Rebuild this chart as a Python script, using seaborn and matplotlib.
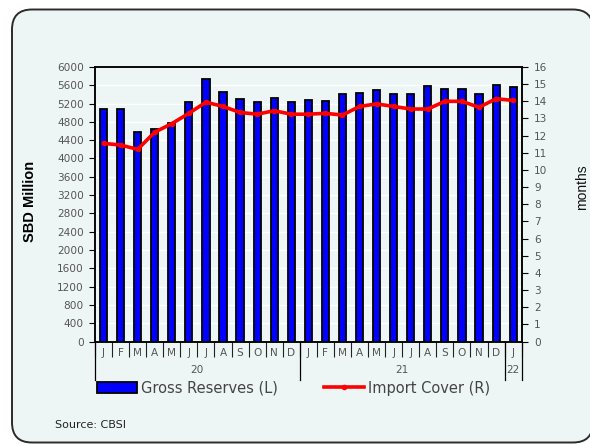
import numpy as np
import pandas as pd
import matplotlib
matplotlib.use("Agg")
import matplotlib.pyplot as plt
import seaborn as sns
from matplotlib.patches import FancyBboxPatch
from matplotlib.transforms import IdentityTransform

# ---- data ----
months = ["J", "F", "M", "A", "M", "J", "J", "A", "S", "O", "N", "D",
          "J", "F", "M", "A", "M", "J", "J", "A", "S", "O", "N", "D", "J"]
years = ["20", "21", "22"]
gross_reserves = [5080, 5080, 4580, 4640, 4780, 5240, 5740, 5450, 5290, 5240, 5320, 5240,
                  5270, 5260, 5420, 5440, 5490, 5420, 5400, 5590, 5520, 5520, 5420, 5600,
                  5570]
import_cover = [11.55, 11.45, 11.2, 12.2, 12.7, 13.3, 13.95, 13.7, 13.35, 13.25, 13.45, 13.25,
                13.25, 13.3, 13.2, 13.7, 13.85, 13.7, 13.55, 13.55, 14.0, 14.0, 13.65, 14.15,
                14.05]
left_ticks = list(range(0, 6001, 400))
right_ticks = list(range(0, 17))

df = pd.DataFrame({"pos": list(range(len(months))),
                   "reserves": gross_reserves,
                   "cover": import_cover})

W, H = 590, 444
panel_fc = "#eef6f5"
fig = plt.figure(figsize=(W / 100, H / 100), dpi=100)
fig.patch.set_facecolor("white")

panel = FancyBboxPatch((12, 1.5), 581, 433, boxstyle="round,pad=0,rounding_size=20",
                       transform=IdentityTransform(), fc=panel_fc, ec="#2b2b2b", lw=1.4,
                       zorder=0)
fig.add_artist(panel)

L, R, T, B = 95, 521.7, 67, 341.5
ax = fig.add_axes([L / W, (H - B) / H, (R - L) / W, (B - T) / H])
ax.patch.set_visible(False)

sns.barplot(data=df, x="pos", y="reserves", color="#0000ff", saturation=1,
            edgecolor="black", linewidth=1.3, width=0.42, ax=ax)
ax.set_xlim(-0.5, len(months) - 0.5)
ax.set_ylim(0, 6000)
ax.set_yticks(left_ticks)
ax.yaxis.grid(True, color="white", lw=0.9)
ax.set_axisbelow(True)
ax.set_xlabel("")
ax.set_ylabel("")

ax2 = ax.twinx()
sns.lineplot(data=df, x="pos", y="cover", color="red", lw=2.6, marker="o",
             markersize=4, markeredgewidth=0, legend=False, ax=ax2)
ax2.set_ylim(0, 16)
ax2.set_yticks(right_ticks)
ax2.set_ylabel("")
ax2.set_xlabel("")
ax.set_xlim(-0.5, len(months) - 0.5)

for a in (ax, ax2):
    for s in a.spines.values():
        s.set_color("black")
        s.set_linewidth(1.1)

ax.tick_params(axis="y", direction="out", length=4, width=0.8, color="black",
               labelcolor="#555555", labelsize=7.6, pad=4)
ax2.tick_params(axis="y", direction="out", length=4, width=0.8, color="black",
                labelcolor="#555555", labelsize=7.6, pad=5)
for lab in ax.get_yticklabels() + ax2.get_yticklabels():
    lab.set_fontfamily("DejaVu Sans")

# month separators
ax.set_xticks(np.arange(-0.5, len(months), 1.0))
ax.set_xticklabels([])
ax.tick_params(axis="x", direction="out", length=11, width=0.8, color="#222222")

xt = ax.get_xaxis_transform()
for i, m in enumerate(months):
    ax.text(i, -0.042, m, transform=xt, ha="center", va="center",
            fontsize=7.6, color="#555555")
# year separators and labels
for xb in [-0.5, 11.5, 23.5, 24.5]:
    ax.plot([xb, xb], [0, -0.14], transform=xt, color="black", lw=0.9, clip_on=False)
for xc, y in zip([5.5, 17.5, 24.0], years):
    ax.text(xc, -0.104, y, transform=xt, ha="center", va="center",
            fontsize=7.6, color="#555555")

# axis titles
fig.text(29.5 / W, 1 - 201 / H, "SBD Million", rotation=90, ha="center", va="center",
         fontsize=10.5, fontweight="bold",
         family=["Liberation Sans Narrow", "Liberation Sans", "DejaVu Sans"])
fig.text(582 / W, 1 - 187 / H, "months", rotation=90, ha="center", va="center",
         fontsize=10, family=["Liberation Sans", "DejaVu Sans"], color="#111111")

# legend
bar_handle = ax.patches[0]
line_handle = ax2.get_lines()[0]
leg = fig.legend([bar_handle, line_handle], ["Gross Reserves (L)", "Import Cover (R)"],
                 loc="center left", bbox_to_anchor=(97 / W, 1 - 388 / H), ncol=2,
                 frameon=False, fontsize=10.5, handlelength=2.74, handletextpad=0.27,
                 columnspacing=3.2, borderpad=0, borderaxespad=0)
for t in leg.get_texts():
    t.set_color("#444444")

fig.text(55 / W, 1 - 425 / H, "Source: CBSI", ha="left", va="center",
         fontsize=8, color="#222222")

fig.savefig("out.png", dpi=100)
